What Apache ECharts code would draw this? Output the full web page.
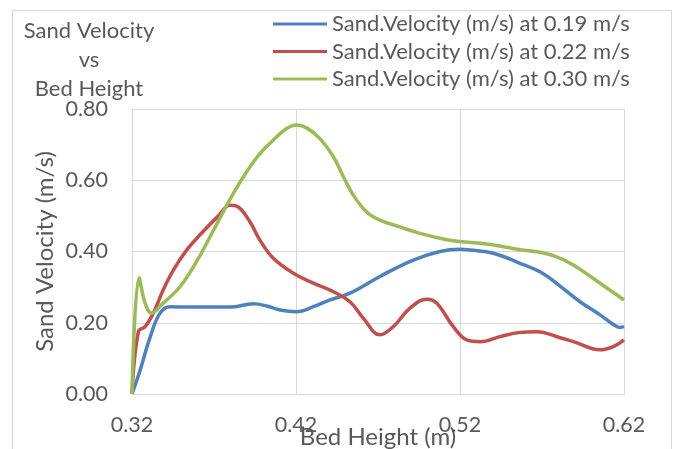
<!DOCTYPE html>
<html>
<head>
<meta charset="utf-8">
<script src="https://cdn.jsdelivr.net/npm/echarts@6/dist/echarts.min.js"></script>
<style>
  html, body { margin: 0; padding: 0; background: #ffffff; }
  #chart { width: 675px; height: 449px; }
</style>
</head>
<body>
<div id="chart"></div>
<script>
// Bed height (m) and sand velocity (m/s) for three superficial gas velocities
const bedHeight019 = [0.320, 0.3249, 0.331, 0.3371, 0.3432, 0.3554, 0.3798, 0.394, 0.4021, 0.4102, 0.4204, 0.4306, 0.4407, 0.4529, 0.4712, 0.4915, 0.5078, 0.5200, 0.5261, 0.5403, 0.5566, 0.5688, 0.5810, 0.5932, 0.6054, 0.6135, 0.6176, 0.6200];
const velocity019  = [0.000, 0.066, 0.159, 0.227, 0.245, 0.244, 0.244, 0.253, 0.247, 0.236, 0.231, 0.245, 0.264, 0.283, 0.330, 0.376, 0.400, 0.406, 0.404, 0.395, 0.367, 0.343, 0.303, 0.259, 0.222, 0.195, 0.187, 0.189];

const bedHeight022 = [0.320, 0.3239, 0.328, 0.333, 0.339, 0.3452, 0.3533, 0.3625, 0.3727, 0.3798, 0.3848, 0.392, 0.398, 0.4062, 0.4184, 0.4306, 0.4428, 0.4529, 0.461, 0.4712, 0.4793, 0.4895, 0.4997, 0.5058, 0.5159, 0.5241, 0.5322, 0.5444, 0.5566, 0.5668, 0.5810, 0.5891, 0.6054, 0.6135, 0.6200];
const velocity022  = [0.000, 0.175, 0.189, 0.227, 0.292, 0.348, 0.404, 0.452, 0.500, 0.530, 0.525, 0.483, 0.432, 0.381, 0.339, 0.311, 0.287, 0.259, 0.213, 0.166, 0.189, 0.241, 0.266, 0.255, 0.189, 0.152, 0.147, 0.161, 0.173, 0.175, 0.158, 0.147, 0.124, 0.133, 0.152];

const bedHeight030 = [0.320, 0.3243, 0.328, 0.332, 0.339, 0.3493, 0.3594, 0.3696, 0.3818, 0.3899, 0.3980, 0.4062, 0.4143, 0.4204, 0.4265, 0.4346, 0.4428, 0.4489, 0.4550, 0.4631, 0.4712, 0.4834, 0.4956, 0.5119, 0.5200, 0.5363, 0.5566, 0.5688, 0.5790, 0.5891, 0.6054, 0.6200];
const velocity030  = [0.000, 0.326, 0.255, 0.227, 0.255, 0.301, 0.372, 0.459, 0.563, 0.624, 0.675, 0.713, 0.745, 0.755, 0.747, 0.717, 0.666, 0.610, 0.558, 0.511, 0.488, 0.469, 0.451, 0.433, 0.428, 0.421, 0.405, 0.398, 0.385, 0.362, 0.311, 0.264];

const seriesNames = [
  'Sand.Velocity (m/s) at 0.19 m/s',
  'Sand.Velocity (m/s) at 0.22 m/s',
  'Sand.Velocity (m/s) at 0.30 m/s'
];
const xTicks = [0.32, 0.42, 0.52, 0.62];
const yTicks = [0.00, 0.20, 0.40, 0.60, 0.80];

const FONT = 'Lato';
const TEXT = '#595959';
const GRID = '#d9d9d9';
const COLORS = ['#4f81bd', '#c0504d', '#9bbb59'];

function pairs(xs, ys) { return xs.map((x, i) => [x, ys[i]]); }

const chart = echarts.init(document.getElementById('chart'), null, { renderer: 'canvas' });

chart.setOption({
  animation: false,
  backgroundColor: '#ffffff',
  color: COLORS,
  graphic: [{
    type: 'rect',
    shape: { x: 12.5, y: 10.5, width: 659, height: 460 },
    style: { fill: 'none', stroke: GRID, lineWidth: 1 },
    silent: true
  }],
  title: {
    text: 'Sand Velocity\nvs\nBed Height',
    left: 84,
    top: 11,
    textAlign: 'center',
    textStyle: { fontFamily: FONT, fontSize: 22, fontWeight: 'normal', color: TEXT, lineHeight: 29 }
  },
  legend: {
    orient: 'vertical',
    left: 268,
    top: 8,
    icon: 'rect',
    itemWidth: 54,
    itemHeight: 3,
    itemGap: 5.5,
    data: seriesNames,
    textStyle: { fontFamily: FONT, fontSize: 22, color: TEXT, lineHeight: 22 }
  },
  grid: { left: 132, right: 51, top: 109, bottom: 55, containLabel: false, outerBoundsMode: 'none' },
  xAxis: {
    type: 'value',
    min: xTicks[0],
    max: xTicks[xTicks.length - 1],
    interval: 0.1,
    name: 'Bed Height (m)',
    nameLocation: 'middle',
    nameGap: 31,
    nameMoveOverlap: false,
    nameTextStyle: { fontFamily: FONT, fontSize: 24, color: TEXT },
    axisLine: { show: true, lineStyle: { color: GRID, width: 1 } },
    axisTick: { show: false },
    splitLine: { show: true, lineStyle: { color: GRID, width: 1 } },
    axisLabel: {
      fontFamily: FONT, fontSize: 21.5, color: TEXT, margin: 20,
      showMinLabel: true, showMaxLabel: true,
      formatter: v => v.toFixed(2)
    }
  },
  yAxis: {
    type: 'value',
    min: yTicks[0],
    max: yTicks[yTicks.length - 1],
    interval: 0.2,
    name: 'Sand Velocity (m/s)',
    nameLocation: 'middle',
    nameGap: 75,
    nameMoveOverlap: false,
    nameTextStyle: { fontFamily: FONT, fontSize: 24, color: TEXT },
    axisLine: { show: true, lineStyle: { color: GRID, width: 1 } },
    axisTick: { show: false },
    splitLine: { show: true, lineStyle: { color: GRID, width: 1 } },
    axisLabel: {
      fontFamily: FONT, fontSize: 21.5, color: TEXT, margin: 24,
      formatter: v => v.toFixed(2)
    }
  },
  series: [
    { name: seriesNames[0], data: pairs(bedHeight019, velocity019) },
    { name: seriesNames[1], data: pairs(bedHeight022, velocity022) },
    { name: seriesNames[2], data: pairs(bedHeight030, velocity030) }
  ].map((s, i) => Object.assign({
    type: 'line',
    smooth: 0.4,
    symbol: 'none',
    z: 2 + i,
    lineStyle: { width: 3.5, color: COLORS[i] },
    itemStyle: { color: COLORS[i] }
  }, s))
});
</script>
</body>
</html>
